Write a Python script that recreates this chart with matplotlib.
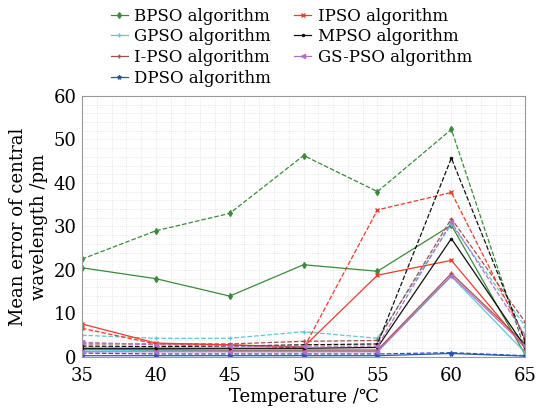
import matplotlib.pyplot as plt
import numpy as np

# temperatures
temps = [35, 40, 45, 50, 55, 60, 65]

names = ['BPSO', 'GPSO', 'I-PSO', 'DPSO', 'IPSO', 'MPSO', 'GS-PSO']
colors = ['#3a8a3a', '#5bc8d8', '#a0524a', '#2a55b5', '#f03a2a', '#111111', '#b070c8']
markers = ['d', '+', '+', '*', 'x', '.', '<']

# solid lines
bpso_s  = [20.5, 18.0, 14.0, 21.2, 19.7, 30.3, 0.5]
gpso_s  = [1.6, 1.5, 1.4, 1.4, 1.3, 18.5, 1.0]
ipso2_s = [1.8, 1.7, 1.6, 1.6, 1.6, 19.2, 3.0]
dpso_s  = [0.3, 0.3, 0.3, 0.3, 0.3, 0.8, 0.2]
ipso_s  = [7.6, 3.2, 2.8, 2.3, 18.8, 22.2, 2.0]
mpso_s  = [2.0, 2.0, 2.0, 2.0, 2.2, 27.2, 2.3]
gspso_s = [1.2, 1.2, 1.2, 1.2, 1.2, 18.7, 2.5]

# dashed lines
bpso_d  = [22.5, 29.0, 33.0, 46.3, 38.0, 52.3, 1.5]
gpso_d  = [5.0, 4.3, 4.3, 5.8, 4.3, 30.5, 7.0]
ipso2_d = [3.0, 3.0, 3.0, 3.6, 3.8, 31.8, 8.0]
dpso_d  = [0.9, 0.7, 0.7, 0.7, 0.7, 1.0, 0.3]
ipso_d  = [6.6, 3.0, 2.8, 2.0, 33.8, 37.8, 4.3]
mpso_d  = [2.5, 2.4, 2.5, 2.8, 3.0, 45.7, 3.5]
gspso_d = [3.4, 2.8, 2.5, 2.5, 2.5, 31.0, 5.0]

solid = [bpso_s, gpso_s, ipso2_s, dpso_s, ipso_s, mpso_s, gspso_s]
dashed = [bpso_d, gpso_d, ipso2_d, dpso_d, ipso_d, mpso_d, gspso_d]

plt.rcParams['font.family'] = ['DejaVu Serif', 'DejaVu Sans']

fig = plt.figure(figsize=(5.5, 4.08), dpi=100)
ax = fig.add_axes([0.149, 0.125, 0.806, 0.64])

handles = []
for i in range(len(names)):
    h, = ax.plot(temps, solid[i], color=colors[i], marker=markers[i], ms=3,
                 lw=0.9, label=names[i] + ' algorithm')
    ax.plot(temps, dashed[i], color=colors[i], marker=markers[i], ms=3,
            lw=0.9, ls='--')
    handles.append(h)

ax.set_xlim(35, 65)
ax.set_ylim(0, 60)
ax.set_xticks(temps)
ax.set_yticks(range(0, 61, 10))
ax.set_xticks(np.arange(35, 65.1, 1), minor=True)
ax.set_yticks(np.arange(0, 60.1, 2), minor=True)
ax.grid(which='both', ls=':', color='#dcdcdc', lw=0.6)
ax.tick_params(which='both', length=0, labelsize=13)
ax.tick_params(axis='x', pad=7)
ax.tick_params(axis='y', pad=4)
for s in ax.spines.values():
    s.set_color('#999999')

ax.set_xlabel('Temperature /℃', fontsize=13, labelpad=2)
ax.set_ylabel('Mean error of central\nwavelength /pm', fontsize=13, labelpad=4)

fig.legend(handles=handles, ncol=2, loc='upper center', bbox_to_anchor=(0.53, 1.01),
           frameon=False, fontsize=12, handlelength=1.0, handletextpad=0.4,
           columnspacing=1.4, labelspacing=0.22, borderpad=0.2)

fig.savefig('out.png', dpi=100)
